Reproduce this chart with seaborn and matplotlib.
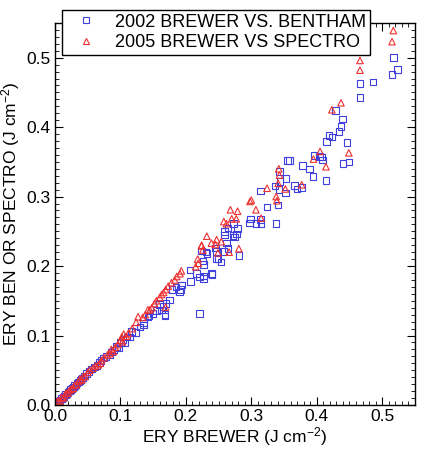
import numpy as np
import pandas as pd
import matplotlib
matplotlib.use("Agg")
import matplotlib.pyplot as plt
import seaborn as sns
from matplotlib.ticker import MultipleLocator, FormatStrFormatter
from matplotlib.lines import Line2D

sns.set_theme(style="white")
plt.rcParams['font.family'] = ['Liberation Sans', 'DejaVu Sans']
plt.rcParams['mathtext.fontset'] = 'custom'
plt.rcParams['mathtext.rm'] = 'Liberation Sans'
plt.rcParams['mathtext.it'] = 'Liberation Sans'

series_names = ["2002 BREWER VS. BENTHAM", "2005 BREWER VS SPECTRO"]

blue_x = [0.003, 0.005, 0.006, 0.008, 0.010, 0.012, 0.014, 0.016, 0.018, 0.020, 0.022, 0.024, 0.026, 0.028,
          0.030, 0.032, 0.034, 0.036, 0.038, 0.040, 0.042, 0.045, 0.048, 0.052, 0.056, 0.060, 0.064, 0.068,
          0.070, 0.074, 0.078, 0.084, 0.086, 0.090, 0.094, 0.097, 0.100, 0.104, 0.107, 0.110, 0.114, 0.117,
          0.123, 0.130, 0.135, 0.135, 0.142, 0.144, 0.150, 0.155, 0.160, 0.163, 0.165, 0.168, 0.168, 0.170,
          0.175, 0.179, 0.185, 0.190, 0.192, 0.193, 0.206, 0.207, 0.216, 0.221, 0.221, 0.224, 0.226, 0.227,
          0.227, 0.227, 0.231, 0.232, 0.239, 0.240, 0.245, 0.247, 0.247, 0.249, 0.254, 0.258, 0.259, 0.259,
          0.262, 0.264, 0.264, 0.272, 0.273, 0.274, 0.277, 0.279, 0.281, 0.297, 0.299, 0.307, 0.314, 0.314,
          0.315, 0.324, 0.336, 0.338, 0.341, 0.342, 0.343, 0.344, 0.352, 0.353, 0.355, 0.358, 0.366, 0.370,
          0.377, 0.378, 0.389, 0.394, 0.396, 0.404, 0.407, 0.409, 0.414, 0.415, 0.419, 0.423, 0.429, 0.434,
          0.437, 0.439, 0.440, 0.446, 0.449, 0.466, 0.466, 0.486, 0.515, 0.517, 0.523]
blue_y = [0.003, 0.005, 0.004, 0.007, 0.009, 0.011, 0.012, 0.015, 0.016, 0.019, 0.020, 0.022, 0.024, 0.026,
          0.028, 0.029, 0.032, 0.033, 0.035, 0.037, 0.039, 0.042, 0.045, 0.048, 0.052, 0.055, 0.057, 0.061,
          0.064, 0.068, 0.070, 0.072, 0.076, 0.079, 0.084, 0.082, 0.090, 0.094, 0.089, 0.098, 0.098, 0.106,
          0.104, 0.112, 0.118, 0.115, 0.127, 0.128, 0.132, 0.136, 0.145, 0.137, 0.142, 0.128, 0.130, 0.146,
          0.151, 0.166, 0.170, 0.163, 0.166, 0.173, 0.194, 0.178, 0.189, 0.184, 0.132, 0.222, 0.207, 0.182,
          0.202, 0.186, 0.220, 0.218, 0.189, 0.188, 0.226, 0.211, 0.221, 0.210, 0.206, 0.221, 0.245, 0.250,
          0.233, 0.255, 0.225, 0.244, 0.261, 0.242, 0.246, 0.254, 0.215, 0.262, 0.268, 0.261, 0.267, 0.308,
          0.261, 0.285, 0.315, 0.261, 0.288, 0.310, 0.336, 0.322, 0.305, 0.326, 0.352, 0.352, 0.316, 0.311,
          0.313, 0.345, 0.340, 0.329, 0.359, 0.358, 0.357, 0.353, 0.323, 0.379, 0.388, 0.386, 0.424, 0.394,
          0.401, 0.412, 0.348, 0.378, 0.350, 0.443, 0.463, 0.465, 0.476, 0.500, 0.483]

red_x = [0.003, 0.005, 0.008, 0.010, 0.013, 0.015, 0.017, 0.020, 0.022, 0.025, 0.028, 0.030, 0.033, 0.036,
         0.038, 0.041, 0.043, 0.046, 0.050, 0.053, 0.058, 0.062, 0.066, 0.069, 0.071, 0.075, 0.080, 0.084,
         0.086, 0.089, 0.092, 0.096, 0.100, 0.102, 0.103, 0.105, 0.109, 0.112, 0.118, 0.124, 0.127, 0.134,
         0.138, 0.142, 0.145, 0.148, 0.152, 0.155, 0.160, 0.163, 0.166, 0.169, 0.169, 0.173, 0.178, 0.183,
         0.186, 0.191, 0.193, 0.215, 0.218, 0.219, 0.224, 0.224, 0.226, 0.232, 0.239, 0.245, 0.247, 0.249,
         0.254, 0.258, 0.262, 0.266, 0.268, 0.270, 0.277, 0.279, 0.281, 0.298, 0.300, 0.307, 0.315, 0.324,
         0.338, 0.339, 0.341, 0.342, 0.343, 0.352, 0.377, 0.395, 0.405, 0.414, 0.423, 0.437, 0.449, 0.466,
         0.466, 0.515, 0.517]
red_y = [0.004, 0.006, 0.005, 0.011, 0.010, 0.014, 0.017, 0.017, 0.021, 0.023, 0.024, 0.029, 0.029, 0.034,
         0.037, 0.036, 0.041, 0.041, 0.047, 0.050, 0.053, 0.056, 0.058, 0.060, 0.064, 0.068, 0.072, 0.074,
         0.080, 0.077, 0.083, 0.087, 0.093, 0.098, 0.091, 0.102, 0.099, 0.103, 0.110, 0.119, 0.127, 0.126,
         0.130, 0.137, 0.137, 0.140, 0.146, 0.150, 0.155, 0.159, 0.162, 0.166, 0.141, 0.171, 0.176, 0.180,
         0.185, 0.189, 0.193, 0.199, 0.210, 0.204, 0.229, 0.230, 0.223, 0.243, 0.233, 0.231, 0.238, 0.219,
         0.235, 0.264, 0.261, 0.220, 0.281, 0.268, 0.268, 0.279, 0.225, 0.293, 0.295, 0.281, 0.269, 0.312,
         0.300, 0.294, 0.319, 0.340, 0.331, 0.311, 0.317, 0.354, 0.365, 0.343, 0.425, 0.435, 0.363, 0.482,
         0.496, 0.523, 0.539]

df = pd.DataFrame({
    "x": blue_x + red_x,
    "y": blue_y + red_y,
    "series": [series_names[0]] * len(blue_x) + [series_names[1]] * len(red_x),
})

fig = plt.figure(figsize=(4.21, 4.57), dpi=100)
ax = fig.add_axes([0.1306, 0.1138, 0.855, 0.836])

palette = {series_names[0]: "#4040dc", series_names[1]: "#ee3030"}
markers = {series_names[0]: "s", series_names[1]: "^"}
sns.scatterplot(data=df, x="x", y="y", hue="series", style="series", palette=palette,
                markers=markers, s=22, linewidth=0.8, ax=ax, legend=False)
# make markers hollow
for coll in ax.collections:
    fc = coll.get_facecolors()
    coll.set_edgecolors(fc)
    coll.set_facecolors("none")

ax.set_xlim(0, 0.55)
ax.set_ylim(0, 0.55)
ax.xaxis.set_major_locator(MultipleLocator(0.1))
ax.yaxis.set_major_locator(MultipleLocator(0.1))
ax.xaxis.set_minor_locator(MultipleLocator(0.01))
ax.yaxis.set_minor_locator(MultipleLocator(0.01))
ax.xaxis.set_major_formatter(FormatStrFormatter('%.1f'))
ax.yaxis.set_major_formatter(FormatStrFormatter('%.1f'))
ax.tick_params(which='both', direction='in', bottom=True, left=True, top=True, right=True,
               color='black')
ax.tick_params(which='major', length=6, width=0.8, labelsize=12.5, pad=3, labelcolor='black')
ax.tick_params(which='minor', length=3, width=0.6)
for sp in ax.spines.values():
    sp.set_color('black')
    sp.set_linewidth(1.0)

ax.set_xlabel(r'ERY BREWER (J cm$^{-2}$)', fontsize=12.5, labelpad=1, color='black')
ax.set_ylabel(r'ERY BEN OR SPECTRO (J cm$^{-2}$)', fontsize=12.5, labelpad=3, color='black')

handles = [Line2D([], [], marker='s', linestyle='none', markerfacecolor='none',
                  markeredgecolor=palette[series_names[0]], markersize=4.5, markeredgewidth=0.8),
           Line2D([], [], marker='^', linestyle='none', markerfacecolor='none',
                  markeredgecolor=palette[series_names[1]], markersize=4.5, markeredgewidth=0.8)]
leg = ax.legend(handles, series_names, loc='upper left', bbox_to_anchor=(0.147, 0.978),
                bbox_transform=fig.transFigure, borderaxespad=0, fontsize=13, frameon=True,
                fancybox=False, edgecolor='black', framealpha=1, handlelength=2.3,
                handletextpad=0.45, borderpad=0.2, labelspacing=0.2)
leg.get_frame().set_linewidth(1.0)
for t in leg.get_texts():
    t.set_color('black')
leg.set_zorder(10)

fig.savefig("out.png", dpi=100)
